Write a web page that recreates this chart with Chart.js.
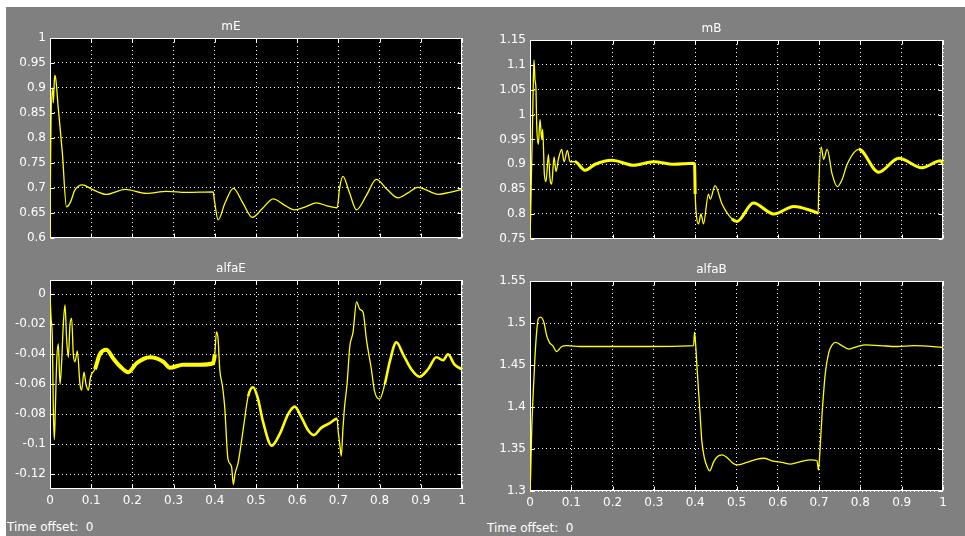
<!DOCTYPE html>
<html>
<head>
<meta charset="utf-8">
<script src="https://cdn.jsdelivr.net/npm/chart.js@4.4.1/dist/chart.umd.min.js"></script>
<style>
body{margin:0;background:#fff;width:965px;height:536px;overflow:hidden;font-family:"DejaVu Sans",sans-serif}
#scope{position:absolute;left:6px;top:7px;width:959px;height:529px;background:#808080}
canvas{position:absolute}
.offset{position:absolute;color:#fff;font-size:12px;white-space:pre}
</style>
</head>
<body>
<div id="scope"></div>
<canvas id="mE" width="472" height="233" style="left:0;top:16px"></canvas>
<canvas id="mB" width="473" height="232" style="left:480px;top:18px"></canvas>
<canvas id="alfaE" width="472" height="253" style="left:0;top:258px"></canvas>
<canvas id="alfaB" width="473" height="254" style="left:480px;top:259px"></canvas>
<div class="offset" style="left:7px;top:520px">Time offset:  0</div>
<div class="offset" style="left:487px;top:521px">Time offset:  0</div>
<script>
// mE
const tME = [0, 0.0016, 0.0057, 0.0081, 0.0105, 0.0121, 0.0145, 0.02, 0.03, 0.04, 0.05, 0.06, 0.079, 0.1, 0.137, 0.182, 0.234, 0.283, 0.331, 0.396, 0.399, 0.408, 0.425, 0.445, 0.468, 0.491, 0.515, 0.542, 0.568, 0.594, 0.62, 0.647, 0.672, 0.697, 0.703, 0.711, 0.727, 0.744, 0.768, 0.792, 0.818, 0.845, 0.869, 0.893, 0.918, 0.942, 0.97, 1];
const vME = [0.6, 0.775, 0.9, 0.87, 0.915, 0.925, 0.915, 0.86, 0.77, 0.662, 0.672, 0.695, 0.706, 0.698, 0.687, 0.697, 0.689, 0.693, 0.691, 0.692, 0.675, 0.636, 0.67, 0.699, 0.67, 0.641, 0.658, 0.678, 0.666, 0.656, 0.662, 0.67, 0.664, 0.66, 0.70, 0.723, 0.69, 0.656, 0.685, 0.717, 0.697, 0.68, 0.69, 0.701, 0.694, 0.687, 0.691, 0.697];

// mB
const tMB = [0, 0.0016, 0.004, 0.0057, 0.0081, 0.0097, 0.0121, 0.0145, 0.0162, 0.0202, 0.0243, 0.0283, 0.0307, 0.0348, 0.0388, 0.0445, 0.0485, 0.0525, 0.0582, 0.0631, 0.0687, 0.0768, 0.0825, 0.0905, 0.097, 0.109, 0.133, 0.158, 0.198, 0.251, 0.299, 0.348, 0.396, 0.3985, 0.4, 0.4025, 0.408, 0.414, 0.42, 0.432, 0.4365, 0.448, 0.465, 0.489, 0.501, 0.541, 0.59, 0.639, 0.687, 0.6977, 0.699, 0.705, 0.711, 0.7195, 0.7316, 0.744, 0.756, 0.768, 0.796, 0.844, 0.893, 0.949, 0.994, 1];
const vMB = [0.75, 0.80, 0.90, 0.96, 1.07, 1.11, 1.07, 1.05, 0.98, 0.94, 0.99, 0.95, 0.97, 0.88, 0.865, 0.92, 0.87, 0.86, 0.915, 0.885, 0.91, 0.93, 0.905, 0.928, 0.905, 0.905, 0.888, 0.9, 0.908, 0.898, 0.905, 0.9, 0.902, 0.90, 0.84, 0.80, 0.78, 0.80, 0.78, 0.84, 0.83, 0.857, 0.82, 0.79, 0.785, 0.822, 0.80, 0.815, 0.805, 0.802, 0.85, 0.935, 0.91, 0.93, 0.88, 0.855, 0.87, 0.90, 0.93, 0.884, 0.912, 0.893, 0.907, 0.90];

// alfaE
const tAE = [0, 0.0024, 0.0057, 0.0081, 0.0105, 0.0129, 0.0162, 0.0202, 0.0243, 0.0283, 0.0323, 0.0364, 0.0404, 0.0445, 0.0485, 0.0525, 0.0566, 0.0606, 0.0663, 0.0728, 0.0768, 0.0825, 0.0873, 0.093, 0.0986, 0.109, 0.121, 0.137, 0.154, 0.170, 0.19, 0.21, 0.243, 0.275, 0.291, 0.323, 0.364, 0.396, 0.4, 0.404, 0.408, 0.412, 0.419, 0.424, 0.432, 0.4406, 0.445, 0.449, 0.457, 0.469, 0.481, 0.493, 0.505, 0.517, 0.538, 0.558, 0.578, 0.594, 0.61, 0.627, 0.64, 0.659, 0.679, 0.697, 0.699, 0.7033, 0.707, 0.711, 0.715, 0.721, 0.7276, 0.7357, 0.744, 0.752, 0.76, 0.768, 0.78, 0.788, 0.8, 0.8125, 0.8246, 0.8408, 0.857, 0.877, 0.897, 0.9176, 0.938, 0.954, 0.966, 0.982, 1];
const vAE = [0, -0.015, -0.03, -0.077, -0.097, -0.077, -0.045, -0.033, -0.06, -0.045, -0.02, -0.007, -0.03, -0.042, -0.02, -0.016, -0.04, -0.045, -0.038, -0.06, -0.064, -0.052, -0.06, -0.064, -0.055, -0.05, -0.04, -0.037, -0.043, -0.048, -0.052, -0.046, -0.042, -0.045, -0.049, -0.047, -0.047, -0.046, -0.04, -0.025, -0.03, -0.05, -0.062, -0.075, -0.11, -0.115, -0.127, -0.12, -0.112, -0.09, -0.068, -0.062, -0.07, -0.085, -0.101, -0.093, -0.08, -0.075, -0.082, -0.091, -0.094, -0.089, -0.086, -0.083, -0.09, -0.1, -0.108, -0.09, -0.075, -0.06, -0.035, -0.025, -0.005, -0.01, -0.012, -0.03, -0.05, -0.065, -0.07, -0.06, -0.045, -0.032, -0.04, -0.05, -0.055, -0.05, -0.042, -0.044, -0.04, -0.047, -0.05];

// alfaB
const tAB = [0, 0.0016, 0.004, 0.0081, 0.0121, 0.0162, 0.0202, 0.0259, 0.034, 0.0404, 0.0469, 0.055, 0.0647, 0.0768, 0.0889, 0.121, 0.202, 0.283, 0.396, 0.3985, 0.401, 0.404, 0.408, 0.412, 0.416, 0.422, 0.428, 0.435, 0.445, 0.454, 0.465, 0.477, 0.489, 0.501, 0.525, 0.55, 0.566, 0.586, 0.61, 0.631, 0.655, 0.679, 0.695, 0.6985, 0.7017, 0.707, 0.715, 0.7235, 0.7316, 0.74, 0.752, 0.772, 0.792, 0.8125, 0.849, 0.889, 0.93, 1];
const vAB = [1.3, 1.32, 1.37, 1.42, 1.46, 1.49, 1.505, 1.507, 1.5, 1.485, 1.477, 1.473, 1.466, 1.472, 1.473, 1.472, 1.472, 1.472, 1.473, 1.489, 1.475, 1.45, 1.42, 1.39, 1.36, 1.34, 1.33, 1.324, 1.335, 1.341, 1.343, 1.34, 1.334, 1.331, 1.334, 1.338, 1.339, 1.336, 1.334, 1.332, 1.335, 1.337, 1.336, 1.325, 1.345, 1.39, 1.44, 1.465, 1.474, 1.477, 1.474, 1.469, 1.472, 1.474, 1.473, 1.472, 1.473, 1.471];

const xTicks = [0, 1, 0.1];

// black plot area, white box round it and small inward ticks
const axesBox = {
  id: 'axesBox',
  beforeDraw(chart) {
    const {ctx, chartArea: a} = chart;
    ctx.save();
    ctx.fillStyle = '#000';
    ctx.fillRect(a.left, a.top, a.right - a.left, a.bottom - a.top);
    ctx.restore();
  },
  beforeDatasetsDraw(chart) {
    const {ctx, chartArea: a, scales} = chart;
    ctx.save();
    ctx.strokeStyle = '#fff';
    ctx.lineWidth = 1;
    const l = Math.round(a.left) + 0.5, r = Math.round(a.right) - 0.5;
    const t = Math.round(a.top) + 0.5, b = Math.round(a.bottom) - 0.5;
    ctx.strokeRect(l, t, r - l, b - t);
    ctx.beginPath();
    scales.x.ticks.forEach((tk, i) => {
      const px = Math.round(scales.x.getPixelForTick(i)) + 0.5;
      ctx.moveTo(px, b); ctx.lineTo(px, b - 4);
      ctx.moveTo(px, t); ctx.lineTo(px, t + 4);
    });
    scales.y.ticks.forEach((tk, i) => {
      const py = Math.round(scales.y.getPixelForTick(i)) + 0.5;
      ctx.moveTo(l, py); ctx.lineTo(l + 4, py);
      ctx.moveTo(r, py); ctx.lineTo(r - 4, py);
    });
    ctx.stroke();
    ctx.restore();
  }
};

const fmt = v => String(+(+v).toFixed(3));

function makeScope(id, title, t, v, yMin, yMax, yStep, showX, widthAt) {
  new Chart(document.getElementById(id), {
    type: 'line',
    data: {
      datasets: [{
        data: t.map((x, i) => ({x: x, y: v[i]})),
        borderColor: '#ffff00',
        borderWidth: 1.3,
        pointRadius: 0,
        cubicInterpolationMode: 'monotone',
        segment: {borderWidth: ctx => widthAt(ctx.p0.parsed.x)}
      }]
    },
    options: {
      responsive: false,
      animation: false,
      events: [],
      layout: {padding: {top: 0, right: 10, bottom: showX ? 0 : 2, left: 0}},
      plugins: {
        legend: {display: false},
        tooltip: {enabled: false},
        title: {
          display: true, text: title, color: '#fff',
          font: {family: 'DejaVu Sans', size: 12, weight: 'normal'},
          padding: {top: 4, bottom: 3.6}
        }
      },
      scales: {
        x: {
          type: 'linear', min: xTicks[0], max: xTicks[1],
          afterFit: s => { s.height = showX ? 22 : 0; },
          grid: {color: '#fff', drawTicks: false},
          border: {display: false, dash: [1, 3]},
          ticks: {
            display: showX, stepSize: xTicks[2], color: '#fff', padding: 5,
            maxRotation: 0, callback: fmt,
            font: {family: 'DejaVu Sans', size: 12}
          }
        },
        y: {
          min: yMin, max: yMax,
          afterFit: s => { s.width = 50; },
          grid: {color: '#fff', drawTicks: false},
          border: {display: false, dash: [1, 3]},
          ticks: {
            stepSize: yStep, includeBounds: false, color: '#fff', padding: 4,
            callback: fmt,
            font: {family: 'DejaVu Sans', size: 12}
          }
        }
      }
    },
    plugins: [axesBox]
  });
}

const thin = () => 1.3;
const noisyMB = x => (x > 0.1 && x < 0.399) || (x > 0.47 && x < 0.697) || (x > 0.77) ? 3 : 1.3;
const noisyAE = x => (x > 0.1 && x < 0.4) ? 4 : ((x > 0.47 && x < 0.697) || (x > 0.8) ? 2.6 : 1.3);

makeScope('mE', 'mE', tME, vME, 0.6, 1, 0.05, false, thin);
makeScope('mB', 'mB', tMB, vMB, 0.75, 1.15, 0.05, false, noisyMB);
makeScope('alfaE', 'alfaE', tAE, vAE, -0.13, 0.0096, 0.02, true, noisyAE);
makeScope('alfaB', 'alfaB', tAB, vAB, 1.3, 1.55, 0.05, true, thin);
</script>
</body>
</html>
